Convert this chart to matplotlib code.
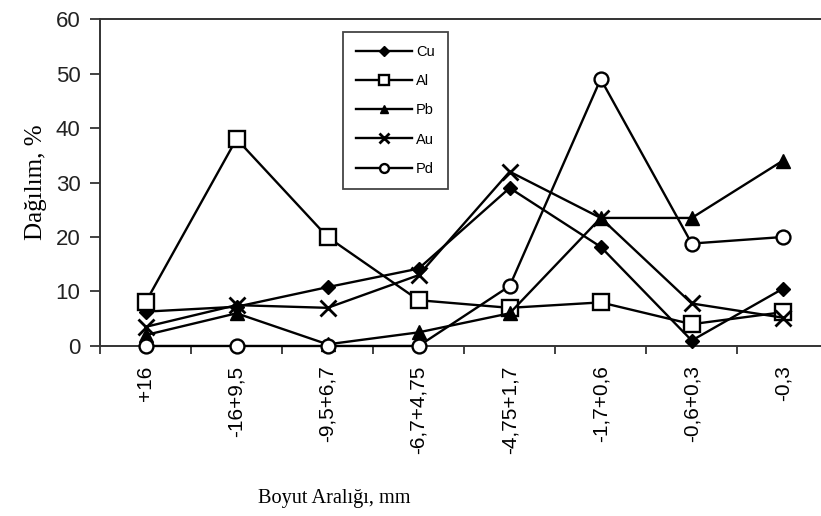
import matplotlib
matplotlib.use("Agg")
import matplotlib.pyplot as plt
from matplotlib.ticker import FixedLocator, NullFormatter

# Size fractions and element distribution (%)
categories = ['+16', '-16+9,5', '-9,5+6,7', '-6,7+4,75', '-4,75+1,7',
              '-1,7+0,6', '-0,6+0,3', '-0,3']
cu = [6.3, 7.2, 10.8, 14.2, 29.0, 18.2, 1.0, 10.5]
al = [8.0, 38.0, 20.0, 8.4, 7.0, 8.0, 4.0, 6.2]
pb = [2.0, 6.0, 0.3, 2.5, 6.0, 23.5, 23.5, 34.0]
au = [3.5, 7.5, 7.0, 13.0, 32.0, 23.5, 7.8, 5.2]
pd = [0.0, 0.0, 0.0, 0.0, 11.0, 49.0, 18.8, 20.0]
y_ticks = [0, 10, 20, 30, 40, 50, 60]

sans = 'Liberation Sans'
serif = 'Liberation Serif'

fig = plt.figure(figsize=(8.21, 5.16), dpi=100)
ax = fig.add_axes([0.1218, 0.3295, 0.8782, 0.6335])

x = list(range(len(categories)))
lw = 1.7
common = dict(color='black', lw=lw, clip_on=False, zorder=3)
ax.plot(x, cu, marker='D', ms=7.5, mfc='black', mec='black', label='Cu', **common)
ax.plot(x, al, marker='s', ms=11, mfc='white', mec='black', mew=1.7, label='Al', **common)
ax.plot(x, pb, marker='^', ms=10, mfc='black', mec='black', label='Pb', **common)
ax.plot(x, au, marker='x', ms=12, mec='black', mew=2.0, label='Au', **common)
ax.plot(x, pd, marker='o', ms=10, mfc='white', mec='black', mew=1.7, label='Pd', **common)

ax.set_xlim(-0.5, 7.42)
ax.set_ylim(0, 60)

# Category labels at centres, tick marks at category boundaries
ax.xaxis.set_major_locator(FixedLocator(x))
ax.set_xticklabels(categories, rotation=90, fontfamily=sans, fontsize=15)
ax.xaxis.set_minor_locator(FixedLocator([i - 0.5 for i in range(len(categories) + 1)]))
ax.xaxis.set_minor_formatter(NullFormatter())
ax.tick_params(axis='x', which='major', length=0, pad=14)
ax.tick_params(axis='x', which='minor', length=6, width=1.3, direction='out', color='#333333')

ax.set_yticks(y_ticks)
ax.set_yticklabels([str(v) for v in y_ticks], fontfamily=sans, fontsize=16, color='#222222')
ax.tick_params(axis='y', length=7, width=1.3, direction='out', pad=7, color='#333333')

for side in ['left', 'top', 'bottom']:
    ax.spines[side].set_linewidth(1.4)
    ax.spines[side].set_color('#333333')
ax.spines['right'].set_visible(False)

ax.set_ylabel('Dağılım, %', fontfamily=serif, fontsize=18, labelpad=6)
fig.text(0.407, 0.033, 'Boyut Aralığı, mm', fontfamily=serif, fontsize=14.6,
         ha='center', va='center')

leg = ax.legend(loc='upper left', bbox_to_anchor=(0.337, 0.962), frameon=True,
                fancybox=False, edgecolor='#444444', framealpha=1,
                prop={'family': sans, 'size': 10.5}, handlelength=3.8,
                handletextpad=0.3, labelspacing=1.05, borderpad=0.9,
                markerscale=0.64, borderaxespad=0)
leg.get_frame().set_linewidth(1.3)

fig.savefig('out.png', dpi=100)
